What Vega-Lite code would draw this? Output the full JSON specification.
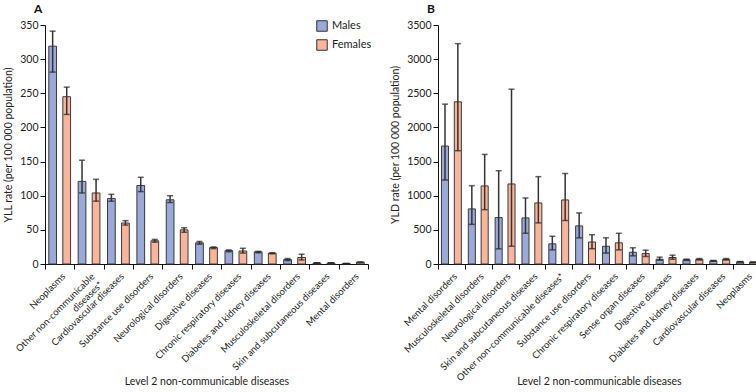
{
  "$schema": "https://vega.github.io/schema/vega-lite/v6.json",
  "padding": {"left": 3, "top": 3, "right": 0, "bottom": 0},
  "spacing": 18,
  "config": {
    "view": {"stroke": null},
    "font": "Lato",
    "axis": {"domainColor": "#111", "tickColor": "#111", "labelColor": "#222", "titleColor": "#222", "labelFont": "Lato", "titleFont": "Lato", "labelFontSize": 10.5, "titleFontSize": 10.5, "titleFontWeight": "normal", "grid": false, "tickSize": 5, "labelOverlap": false},
    "title": {"font": "Lato", "fontSize": 12, "fontWeight": "bold", "color": "#111"}
  },
  "resolve": {"scale": {"x": "independent", "y": "independent", "color": "independent", "xOffset": "independent"}, "legend": {"color": "independent"}},
  "datasets": {
    "yll": [
      {"cause": "Neoplasms", "sex": "Males", "val": 319, "lo": 281, "hi": 341},
      {"cause": "Neoplasms", "sex": "Females", "val": 245, "lo": 219, "hi": 259},
      {"cause": "Other non-communicable diseases*", "sex": "Males", "val": 121, "lo": 104, "hi": 152},
      {"cause": "Other non-communicable diseases*", "sex": "Females", "val": 104, "lo": 92, "hi": 124},
      {"cause": "Cardiovascular diseases", "sex": "Males", "val": 96, "lo": 92, "hi": 102},
      {"cause": "Cardiovascular diseases", "sex": "Females", "val": 60, "lo": 57, "hi": 63.5},
      {"cause": "Substance use disorders", "sex": "Males", "val": 115, "lo": 106, "hi": 127},
      {"cause": "Substance use disorders", "sex": "Females", "val": 34, "lo": 32, "hi": 36},
      {"cause": "Neurological disorders", "sex": "Males", "val": 94, "lo": 90, "hi": 100},
      {"cause": "Neurological disorders", "sex": "Females", "val": 50, "lo": 46.5, "hi": 53},
      {"cause": "Digestive diseases", "sex": "Males", "val": 31, "lo": 29, "hi": 33},
      {"cause": "Digestive diseases", "sex": "Females", "val": 24, "lo": 22.5, "hi": 25},
      {"cause": "Chronic respiratory diseases", "sex": "Males", "val": 19.5, "lo": 18, "hi": 20.6},
      {"cause": "Chronic respiratory diseases", "sex": "Females", "val": 19, "lo": 16, "hi": 23},
      {"cause": "Diabetes and kidney diseases", "sex": "Males", "val": 17.8, "lo": 16.5, "hi": 18.5},
      {"cause": "Diabetes and kidney diseases", "sex": "Females", "val": 15.8, "lo": 15, "hi": 16.5},
      {"cause": "Musculoskeletal disorders", "sex": "Males", "val": 6.5, "lo": 5, "hi": 8},
      {"cause": "Musculoskeletal disorders", "sex": "Females", "val": 9.5, "lo": 6, "hi": 14.3},
      {"cause": "Skin and subcutaneous diseases", "sex": "Males", "val": 1.5, "lo": 1.2, "hi": 1.8},
      {"cause": "Skin and subcutaneous diseases", "sex": "Females", "val": 1.5, "lo": 1.2, "hi": 1.8},
      {"cause": "Mental disorders", "sex": "Males", "val": 0.7, "lo": 0.6, "hi": 0.8},
      {"cause": "Mental disorders", "sex": "Females", "val": 2.6, "lo": 2.2, "hi": 3}
    ],
    "yld": [
      {"cause": "Mental disorders", "sex": "Males", "val": 1727, "lo": 1230, "hi": 2341},
      {"cause": "Mental disorders", "sex": "Females", "val": 2375, "lo": 1659, "hi": 3227},
      {"cause": "Musculoskeletal disorders", "sex": "Males", "val": 807, "lo": 580, "hi": 1147},
      {"cause": "Musculoskeletal disorders", "sex": "Females", "val": 1143, "lo": 796, "hi": 1605},
      {"cause": "Neurological disorders", "sex": "Males", "val": 680, "lo": 222, "hi": 1366},
      {"cause": "Neurological disorders", "sex": "Females", "val": 1172, "lo": 260, "hi": 2560},
      {"cause": "Skin and subcutaneous diseases", "sex": "Males", "val": 675, "lo": 450, "hi": 967},
      {"cause": "Skin and subcutaneous diseases", "sex": "Females", "val": 894, "lo": 602, "hi": 1279},
      {"cause": "Other non-communicable diseases*", "sex": "Males", "val": 295, "lo": 207, "hi": 406},
      {"cause": "Other non-communicable diseases*", "sex": "Females", "val": 938, "lo": 636, "hi": 1327},
      {"cause": "Substance use disorders", "sex": "Males", "val": 558, "lo": 383, "hi": 748},
      {"cause": "Substance use disorders", "sex": "Females", "val": 322, "lo": 224, "hi": 429},
      {"cause": "Chronic respiratory diseases", "sex": "Males", "val": 260, "lo": 160, "hi": 383},
      {"cause": "Chronic respiratory diseases", "sex": "Females", "val": 310, "lo": 207, "hi": 450},
      {"cause": "Sense organ diseases", "sex": "Males", "val": 172, "lo": 120, "hi": 237},
      {"cause": "Sense organ diseases", "sex": "Females", "val": 153, "lo": 110, "hi": 202},
      {"cause": "Digestive diseases", "sex": "Males", "val": 70, "lo": 55, "hi": 100},
      {"cause": "Digestive diseases", "sex": "Females", "val": 95, "lo": 70, "hi": 129},
      {"cause": "Diabetes and kidney diseases", "sex": "Males", "val": 62, "lo": 52, "hi": 72},
      {"cause": "Diabetes and kidney diseases", "sex": "Females", "val": 68, "lo": 58, "hi": 80},
      {"cause": "Cardiovascular diseases", "sex": "Males", "val": 46, "lo": 40, "hi": 52},
      {"cause": "Cardiovascular diseases", "sex": "Females", "val": 68, "lo": 58, "hi": 80},
      {"cause": "Neoplasms", "sex": "Males", "val": 32, "lo": 28, "hi": 36},
      {"cause": "Neoplasms", "sex": "Females", "val": 26, "lo": 22, "hi": 30}
    ]
  },
  "hconcat": [
    {
      "width": 323,
      "height": 239,
      "title": {"text": "A", "anchor": "start", "frame": "group", "dx": -11, "offset": 4},
      "data": {"name": "yll"},
      "encoding": {
        "x": {"field": "cause", "type": "nominal", "sort": null, "scale": {"paddingInner": 0, "paddingOuter": 0},
          "axis": {"title": "Level 2 non-communicable diseases", "labelAngle": -45, "labelFontSize": 9.5, "tickBand": "extent", "labelPadding": 2, "titlePadding": 5,
            "labelExpr": "datum.value == 'Other non-communicable diseases*' ? ['Other non-communicable', 'diseases*'] : datum.value"}},
        "xOffset": {"field": "sex", "type": "nominal", "sort": ["Males", "Females"], "scale": {"paddingInner": 0.45, "paddingOuter": 0.27}}
      },
      "layer": [
        {
          "mark": {"type": "bar", "stroke": "#3a3a3a", "strokeWidth": 1},
          "encoding": {
            "y": {"field": "val", "type": "quantitative", "scale": {"domain": [0, 350], "nice": false}, "axis": {"title": "YLL rate (per 100 000 population)", "values": [0, 50, 100, 150, 200, 250, 300, 350], "labelOverlap": false, "titlePadding": 6}},
            "color": {"field": "sex", "type": "nominal", "scale": {"domain": ["Males", "Females"], "range": ["#9aa9d7", "#f8b59b"]},
              "legend": {"title": null, "orient": "none", "legendX": 271, "legendY": -5, "symbolType": "square", "symbolSize": 110, "symbolStrokeColor": "#333", "symbolStrokeWidth": 1, "labelFontSize": 11, "labelFont": "Lato", "labelColor": "#222", "rowPadding": 3}}
          }
        },
        {
          "mark": {"type": "rule", "color": "#333", "strokeWidth": 1.5},
          "encoding": {"y": {"field": "lo", "type": "quantitative", "axis": {"title": "YLL rate (per 100 000 population)", "values": [0, 50, 100, 150, 200, 250, 300, 350], "labelOverlap": false, "titlePadding": 6}}, "y2": {"field": "hi"}}
        },
        {
          "mark": {"type": "tick", "color": "#222", "thickness": 1.5, "size": 6},
          "encoding": {"y": {"field": "hi", "type": "quantitative", "axis": {"title": "YLL rate (per 100 000 population)", "values": [0, 50, 100, 150, 200, 250, 300, 350], "labelOverlap": false, "titlePadding": 6}}}
        },
        {
          "mark": {"type": "tick", "color": "#222", "thickness": 1.5, "size": 6},
          "encoding": {"y": {"field": "lo", "type": "quantitative", "axis": {"title": "YLL rate (per 100 000 population)", "values": [0, 50, 100, 150, 200, 250, 300, 350], "labelOverlap": false, "titlePadding": 6}}}
        }
      ]
    },
    {
      "width": 322,
      "height": 239,
      "title": {"text": "B", "anchor": "start", "frame": "group", "dx": -11, "offset": 4},
      "data": {"name": "yld"},
      "encoding": {
        "x": {"field": "cause", "type": "nominal", "sort": null, "scale": {"paddingInner": 0, "paddingOuter": 0},
          "axis": {"title": "Level 2 non-communicable diseases", "labelAngle": -45, "labelFontSize": 9.5, "tickBand": "extent", "labelPadding": 2, "titlePadding": -6}},
        "xOffset": {"field": "sex", "type": "nominal", "sort": ["Males", "Females"], "scale": {"paddingInner": 0.45, "paddingOuter": 0.27}}
      },
      "layer": [
        {
          "mark": {"type": "bar", "stroke": "#3a3a3a", "strokeWidth": 1},
          "encoding": {
            "y": {"field": "val", "type": "quantitative", "scale": {"domain": [0, 3500], "nice": false}, "axis": {"title": "YLD rate (per 100 000 population)", "values": [0, 500, 1000, 1500, 2000, 2500, 3000, 3500], "format": "d", "labelOverlap": false, "titlePadding": 6}},
            "color": {"field": "sex", "type": "nominal", "scale": {"domain": ["Males", "Females"], "range": ["#9aa9d7", "#f8b59b"]}, "legend": null}
          }
        },
        {
          "mark": {"type": "rule", "color": "#333", "strokeWidth": 1.5},
          "encoding": {"y": {"field": "lo", "type": "quantitative", "axis": {"title": "YLD rate (per 100 000 population)", "values": [0, 500, 1000, 1500, 2000, 2500, 3000, 3500], "format": "d", "labelOverlap": false, "titlePadding": 6}}, "y2": {"field": "hi"}}
        },
        {
          "mark": {"type": "tick", "color": "#222", "thickness": 1.5, "size": 6},
          "encoding": {"y": {"field": "hi", "type": "quantitative", "axis": {"title": "YLD rate (per 100 000 population)", "values": [0, 500, 1000, 1500, 2000, 2500, 3000, 3500], "format": "d", "labelOverlap": false, "titlePadding": 6}}}
        },
        {
          "mark": {"type": "tick", "color": "#222", "thickness": 1.5, "size": 6},
          "encoding": {"y": {"field": "lo", "type": "quantitative", "axis": {"title": "YLD rate (per 100 000 population)", "values": [0, 500, 1000, 1500, 2000, 2500, 3000, 3500], "format": "d", "labelOverlap": false, "titlePadding": 6}}}
        }
      ]
    }
  ]
}
